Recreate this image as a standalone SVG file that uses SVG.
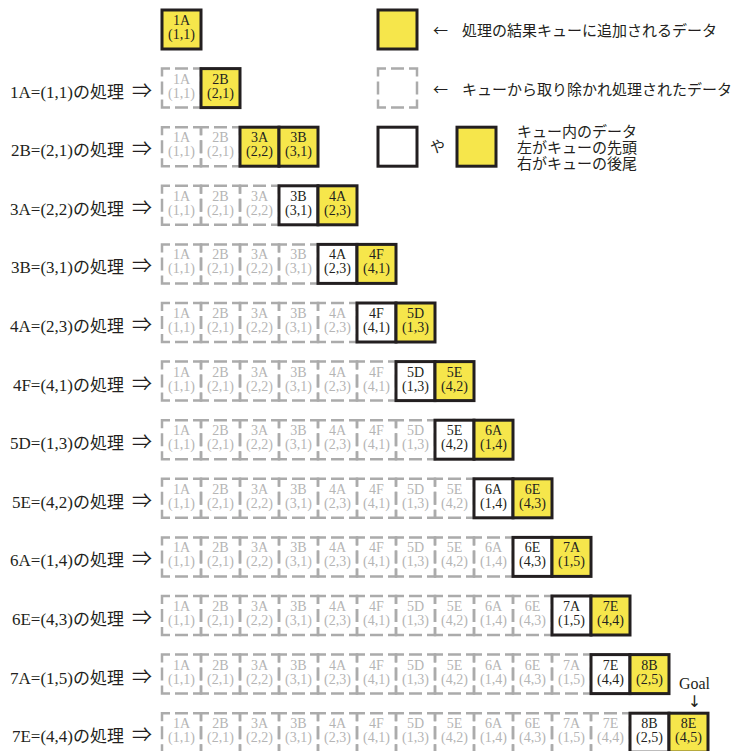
<svg xmlns="http://www.w3.org/2000/svg" width="733" height="751" viewBox="0 0 733 751">
<style>
text{font-family:"Liberation Serif","Noto Sans CJK JP",serif;}
.y{fill:#F6E64B;stroke:#231F20;stroke-width:3;}
.w{fill:#FFFFFF;stroke:#231F20;stroke-width:3;}
.d{fill:none;stroke:#ABABAB;stroke-width:2.5;stroke-dasharray:16 5 13 5;stroke-dashoffset:8;}
.t{font-size:14px;fill:#231F20;text-anchor:middle;}
.g{font-size:14px;fill:#B5B5B5;text-anchor:middle;}
.lb{font-size:17px;fill:#231F20;text-anchor:end;}
.ar{font-size:20px;fill:#231F20;font-family:"Noto Sans CJK JP",sans-serif;}
.lg{font-size:15px;fill:#231F20;font-family:"Noto Sans CJK JP",sans-serif;}
.gl{font-size:16px;fill:#231F20;text-anchor:middle;}
.ga{font-size:16px;fill:#231F20;text-anchor:middle;font-family:"DejaVu Sans",sans-serif;}
</style>

<g id="legend">
<g id="legend-added"><rect class="y" x="378" y="10" width="39" height="39"/>
<text class="lg" y="35.5"><tspan x="433">←</tspan><tspan x="462">処理の結果キューに追加されるデータ</tspan></text></g>
<g id="legend-removed"><rect class="d" x="378" y="68.6" width="39" height="39"/>
<text class="lg" y="94.5"><tspan x="433">←</tspan><tspan x="462">キューから取り除かれ処理されたデータ</tspan></text></g>
<g id="legend-queue"><rect class="w" x="378" y="127.2" width="39" height="39"/>
<text class="lg" x="430" y="152">や</text>
<rect class="y" x="457" y="127.2" width="39" height="39"/>
<text class="lg" x="517" y="136.5">キュー内のデータ</text>
<text class="lg" x="517" y="152.5">左がキューの先頭</text>
<text class="lg" x="517" y="168.5">右がキューの後尾</text></g>
</g>

<g id="row0" transform="translate(0,10)">
<g id="r0-b0" transform="translate(162,0)"><rect class="y" width="39" height="39"/><text class="t" x="19.5" y="15">1A</text><text class="t" x="19.5" y="29">(1,1)</text></g>
</g>

<g id="row1" transform="translate(0,68.6)">
<g id="r1-label"><text class="lb" x="124" y="29">1A=(1,1)の処理</text><text class="ar" x="132" y="29">⇒</text></g>
<g id="r1-b0" transform="translate(162,0)"><rect class="d" width="39" height="39"/><text class="g" x="19.5" y="15">1A</text><text class="g" x="19.5" y="29">(1,1)</text></g>
<g id="r1-b1" transform="translate(201,0)"><rect class="y" width="39" height="39"/><text class="t" x="19.5" y="15">2B</text><text class="t" x="19.5" y="29">(2,1)</text></g>
</g>

<g id="row2" transform="translate(0,127.2)">
<g id="r2-label"><text class="lb" x="124" y="29">2B=(2,1)の処理</text><text class="ar" x="132" y="29">⇒</text></g>
<g id="r2-b0" transform="translate(162,0)"><rect class="d" width="39" height="39"/><text class="g" x="19.5" y="15">1A</text><text class="g" x="19.5" y="29">(1,1)</text></g>
<g id="r2-b1" transform="translate(201,0)"><rect class="d" width="39" height="39"/><text class="g" x="19.5" y="15">2B</text><text class="g" x="19.5" y="29">(2,1)</text></g>
<g id="r2-b2" transform="translate(240,0)"><rect class="y" width="39" height="39"/><text class="t" x="19.5" y="15">3A</text><text class="t" x="19.5" y="29">(2,2)</text></g>
<g id="r2-b3" transform="translate(279,0)"><rect class="y" width="39" height="39"/><text class="t" x="19.5" y="15">3B</text><text class="t" x="19.5" y="29">(3,1)</text></g>
</g>

<g id="row3" transform="translate(0,185.8)">
<g id="r3-label"><text class="lb" x="124" y="29">3A=(2,2)の処理</text><text class="ar" x="132" y="29">⇒</text></g>
<g id="r3-b0" transform="translate(162,0)"><rect class="d" width="39" height="39"/><text class="g" x="19.5" y="15">1A</text><text class="g" x="19.5" y="29">(1,1)</text></g>
<g id="r3-b1" transform="translate(201,0)"><rect class="d" width="39" height="39"/><text class="g" x="19.5" y="15">2B</text><text class="g" x="19.5" y="29">(2,1)</text></g>
<g id="r3-b2" transform="translate(240,0)"><rect class="d" width="39" height="39"/><text class="g" x="19.5" y="15">3A</text><text class="g" x="19.5" y="29">(2,2)</text></g>
<g id="r3-b3" transform="translate(279,0)"><rect class="w" width="39" height="39"/><text class="t" x="19.5" y="15">3B</text><text class="t" x="19.5" y="29">(3,1)</text></g>
<g id="r3-b4" transform="translate(318,0)"><rect class="y" width="39" height="39"/><text class="t" x="19.5" y="15">4A</text><text class="t" x="19.5" y="29">(2,3)</text></g>
</g>

<g id="row4" transform="translate(0,244.4)">
<g id="r4-label"><text class="lb" x="124" y="29">3B=(3,1)の処理</text><text class="ar" x="132" y="29">⇒</text></g>
<g id="r4-b0" transform="translate(162,0)"><rect class="d" width="39" height="39"/><text class="g" x="19.5" y="15">1A</text><text class="g" x="19.5" y="29">(1,1)</text></g>
<g id="r4-b1" transform="translate(201,0)"><rect class="d" width="39" height="39"/><text class="g" x="19.5" y="15">2B</text><text class="g" x="19.5" y="29">(2,1)</text></g>
<g id="r4-b2" transform="translate(240,0)"><rect class="d" width="39" height="39"/><text class="g" x="19.5" y="15">3A</text><text class="g" x="19.5" y="29">(2,2)</text></g>
<g id="r4-b3" transform="translate(279,0)"><rect class="d" width="39" height="39"/><text class="g" x="19.5" y="15">3B</text><text class="g" x="19.5" y="29">(3,1)</text></g>
<g id="r4-b4" transform="translate(318,0)"><rect class="w" width="39" height="39"/><text class="t" x="19.5" y="15">4A</text><text class="t" x="19.5" y="29">(2,3)</text></g>
<g id="r4-b5" transform="translate(357,0)"><rect class="y" width="39" height="39"/><text class="t" x="19.5" y="15">4F</text><text class="t" x="19.5" y="29">(4,1)</text></g>
</g>

<g id="row5" transform="translate(0,303)">
<g id="r5-label"><text class="lb" x="124" y="29">4A=(2,3)の処理</text><text class="ar" x="132" y="29">⇒</text></g>
<g id="r5-b0" transform="translate(162,0)"><rect class="d" width="39" height="39"/><text class="g" x="19.5" y="15">1A</text><text class="g" x="19.5" y="29">(1,1)</text></g>
<g id="r5-b1" transform="translate(201,0)"><rect class="d" width="39" height="39"/><text class="g" x="19.5" y="15">2B</text><text class="g" x="19.5" y="29">(2,1)</text></g>
<g id="r5-b2" transform="translate(240,0)"><rect class="d" width="39" height="39"/><text class="g" x="19.5" y="15">3A</text><text class="g" x="19.5" y="29">(2,2)</text></g>
<g id="r5-b3" transform="translate(279,0)"><rect class="d" width="39" height="39"/><text class="g" x="19.5" y="15">3B</text><text class="g" x="19.5" y="29">(3,1)</text></g>
<g id="r5-b4" transform="translate(318,0)"><rect class="d" width="39" height="39"/><text class="g" x="19.5" y="15">4A</text><text class="g" x="19.5" y="29">(2,3)</text></g>
<g id="r5-b5" transform="translate(357,0)"><rect class="w" width="39" height="39"/><text class="t" x="19.5" y="15">4F</text><text class="t" x="19.5" y="29">(4,1)</text></g>
<g id="r5-b6" transform="translate(396,0)"><rect class="y" width="39" height="39"/><text class="t" x="19.5" y="15">5D</text><text class="t" x="19.5" y="29">(1,3)</text></g>
</g>

<g id="row6" transform="translate(0,361.6)">
<g id="r6-label"><text class="lb" x="124" y="29">4F=(4,1)の処理</text><text class="ar" x="132" y="29">⇒</text></g>
<g id="r6-b0" transform="translate(162,0)"><rect class="d" width="39" height="39"/><text class="g" x="19.5" y="15">1A</text><text class="g" x="19.5" y="29">(1,1)</text></g>
<g id="r6-b1" transform="translate(201,0)"><rect class="d" width="39" height="39"/><text class="g" x="19.5" y="15">2B</text><text class="g" x="19.5" y="29">(2,1)</text></g>
<g id="r6-b2" transform="translate(240,0)"><rect class="d" width="39" height="39"/><text class="g" x="19.5" y="15">3A</text><text class="g" x="19.5" y="29">(2,2)</text></g>
<g id="r6-b3" transform="translate(279,0)"><rect class="d" width="39" height="39"/><text class="g" x="19.5" y="15">3B</text><text class="g" x="19.5" y="29">(3,1)</text></g>
<g id="r6-b4" transform="translate(318,0)"><rect class="d" width="39" height="39"/><text class="g" x="19.5" y="15">4A</text><text class="g" x="19.5" y="29">(2,3)</text></g>
<g id="r6-b5" transform="translate(357,0)"><rect class="d" width="39" height="39"/><text class="g" x="19.5" y="15">4F</text><text class="g" x="19.5" y="29">(4,1)</text></g>
<g id="r6-b6" transform="translate(396,0)"><rect class="w" width="39" height="39"/><text class="t" x="19.5" y="15">5D</text><text class="t" x="19.5" y="29">(1,3)</text></g>
<g id="r6-b7" transform="translate(435,0)"><rect class="y" width="39" height="39"/><text class="t" x="19.5" y="15">5E</text><text class="t" x="19.5" y="29">(4,2)</text></g>
</g>

<g id="row7" transform="translate(0,420.2)">
<g id="r7-label"><text class="lb" x="124" y="29">5D=(1,3)の処理</text><text class="ar" x="132" y="29">⇒</text></g>
<g id="r7-b0" transform="translate(162,0)"><rect class="d" width="39" height="39"/><text class="g" x="19.5" y="15">1A</text><text class="g" x="19.5" y="29">(1,1)</text></g>
<g id="r7-b1" transform="translate(201,0)"><rect class="d" width="39" height="39"/><text class="g" x="19.5" y="15">2B</text><text class="g" x="19.5" y="29">(2,1)</text></g>
<g id="r7-b2" transform="translate(240,0)"><rect class="d" width="39" height="39"/><text class="g" x="19.5" y="15">3A</text><text class="g" x="19.5" y="29">(2,2)</text></g>
<g id="r7-b3" transform="translate(279,0)"><rect class="d" width="39" height="39"/><text class="g" x="19.5" y="15">3B</text><text class="g" x="19.5" y="29">(3,1)</text></g>
<g id="r7-b4" transform="translate(318,0)"><rect class="d" width="39" height="39"/><text class="g" x="19.5" y="15">4A</text><text class="g" x="19.5" y="29">(2,3)</text></g>
<g id="r7-b5" transform="translate(357,0)"><rect class="d" width="39" height="39"/><text class="g" x="19.5" y="15">4F</text><text class="g" x="19.5" y="29">(4,1)</text></g>
<g id="r7-b6" transform="translate(396,0)"><rect class="d" width="39" height="39"/><text class="g" x="19.5" y="15">5D</text><text class="g" x="19.5" y="29">(1,3)</text></g>
<g id="r7-b7" transform="translate(435,0)"><rect class="w" width="39" height="39"/><text class="t" x="19.5" y="15">5E</text><text class="t" x="19.5" y="29">(4,2)</text></g>
<g id="r7-b8" transform="translate(474,0)"><rect class="y" width="39" height="39"/><text class="t" x="19.5" y="15">6A</text><text class="t" x="19.5" y="29">(1,4)</text></g>
</g>

<g id="row8" transform="translate(0,478.8)">
<g id="r8-label"><text class="lb" x="124" y="29">5E=(4,2)の処理</text><text class="ar" x="132" y="29">⇒</text></g>
<g id="r8-b0" transform="translate(162,0)"><rect class="d" width="39" height="39"/><text class="g" x="19.5" y="15">1A</text><text class="g" x="19.5" y="29">(1,1)</text></g>
<g id="r8-b1" transform="translate(201,0)"><rect class="d" width="39" height="39"/><text class="g" x="19.5" y="15">2B</text><text class="g" x="19.5" y="29">(2,1)</text></g>
<g id="r8-b2" transform="translate(240,0)"><rect class="d" width="39" height="39"/><text class="g" x="19.5" y="15">3A</text><text class="g" x="19.5" y="29">(2,2)</text></g>
<g id="r8-b3" transform="translate(279,0)"><rect class="d" width="39" height="39"/><text class="g" x="19.5" y="15">3B</text><text class="g" x="19.5" y="29">(3,1)</text></g>
<g id="r8-b4" transform="translate(318,0)"><rect class="d" width="39" height="39"/><text class="g" x="19.5" y="15">4A</text><text class="g" x="19.5" y="29">(2,3)</text></g>
<g id="r8-b5" transform="translate(357,0)"><rect class="d" width="39" height="39"/><text class="g" x="19.5" y="15">4F</text><text class="g" x="19.5" y="29">(4,1)</text></g>
<g id="r8-b6" transform="translate(396,0)"><rect class="d" width="39" height="39"/><text class="g" x="19.5" y="15">5D</text><text class="g" x="19.5" y="29">(1,3)</text></g>
<g id="r8-b7" transform="translate(435,0)"><rect class="d" width="39" height="39"/><text class="g" x="19.5" y="15">5E</text><text class="g" x="19.5" y="29">(4,2)</text></g>
<g id="r8-b8" transform="translate(474,0)"><rect class="w" width="39" height="39"/><text class="t" x="19.5" y="15">6A</text><text class="t" x="19.5" y="29">(1,4)</text></g>
<g id="r8-b9" transform="translate(513,0)"><rect class="y" width="39" height="39"/><text class="t" x="19.5" y="15">6E</text><text class="t" x="19.5" y="29">(4,3)</text></g>
</g>

<g id="row9" transform="translate(0,537.4)">
<g id="r9-label"><text class="lb" x="124" y="29">6A=(1,4)の処理</text><text class="ar" x="132" y="29">⇒</text></g>
<g id="r9-b0" transform="translate(162,0)"><rect class="d" width="39" height="39"/><text class="g" x="19.5" y="15">1A</text><text class="g" x="19.5" y="29">(1,1)</text></g>
<g id="r9-b1" transform="translate(201,0)"><rect class="d" width="39" height="39"/><text class="g" x="19.5" y="15">2B</text><text class="g" x="19.5" y="29">(2,1)</text></g>
<g id="r9-b2" transform="translate(240,0)"><rect class="d" width="39" height="39"/><text class="g" x="19.5" y="15">3A</text><text class="g" x="19.5" y="29">(2,2)</text></g>
<g id="r9-b3" transform="translate(279,0)"><rect class="d" width="39" height="39"/><text class="g" x="19.5" y="15">3B</text><text class="g" x="19.5" y="29">(3,1)</text></g>
<g id="r9-b4" transform="translate(318,0)"><rect class="d" width="39" height="39"/><text class="g" x="19.5" y="15">4A</text><text class="g" x="19.5" y="29">(2,3)</text></g>
<g id="r9-b5" transform="translate(357,0)"><rect class="d" width="39" height="39"/><text class="g" x="19.5" y="15">4F</text><text class="g" x="19.5" y="29">(4,1)</text></g>
<g id="r9-b6" transform="translate(396,0)"><rect class="d" width="39" height="39"/><text class="g" x="19.5" y="15">5D</text><text class="g" x="19.5" y="29">(1,3)</text></g>
<g id="r9-b7" transform="translate(435,0)"><rect class="d" width="39" height="39"/><text class="g" x="19.5" y="15">5E</text><text class="g" x="19.5" y="29">(4,2)</text></g>
<g id="r9-b8" transform="translate(474,0)"><rect class="d" width="39" height="39"/><text class="g" x="19.5" y="15">6A</text><text class="g" x="19.5" y="29">(1,4)</text></g>
<g id="r9-b9" transform="translate(513,0)"><rect class="w" width="39" height="39"/><text class="t" x="19.5" y="15">6E</text><text class="t" x="19.5" y="29">(4,3)</text></g>
<g id="r9-b10" transform="translate(552,0)"><rect class="y" width="39" height="39"/><text class="t" x="19.5" y="15">7A</text><text class="t" x="19.5" y="29">(1,5)</text></g>
</g>

<g id="row10" transform="translate(0,596)">
<g id="r10-label"><text class="lb" x="124" y="29">6E=(4,3)の処理</text><text class="ar" x="132" y="29">⇒</text></g>
<g id="r10-b0" transform="translate(162,0)"><rect class="d" width="39" height="39"/><text class="g" x="19.5" y="15">1A</text><text class="g" x="19.5" y="29">(1,1)</text></g>
<g id="r10-b1" transform="translate(201,0)"><rect class="d" width="39" height="39"/><text class="g" x="19.5" y="15">2B</text><text class="g" x="19.5" y="29">(2,1)</text></g>
<g id="r10-b2" transform="translate(240,0)"><rect class="d" width="39" height="39"/><text class="g" x="19.5" y="15">3A</text><text class="g" x="19.5" y="29">(2,2)</text></g>
<g id="r10-b3" transform="translate(279,0)"><rect class="d" width="39" height="39"/><text class="g" x="19.5" y="15">3B</text><text class="g" x="19.5" y="29">(3,1)</text></g>
<g id="r10-b4" transform="translate(318,0)"><rect class="d" width="39" height="39"/><text class="g" x="19.5" y="15">4A</text><text class="g" x="19.5" y="29">(2,3)</text></g>
<g id="r10-b5" transform="translate(357,0)"><rect class="d" width="39" height="39"/><text class="g" x="19.5" y="15">4F</text><text class="g" x="19.5" y="29">(4,1)</text></g>
<g id="r10-b6" transform="translate(396,0)"><rect class="d" width="39" height="39"/><text class="g" x="19.5" y="15">5D</text><text class="g" x="19.5" y="29">(1,3)</text></g>
<g id="r10-b7" transform="translate(435,0)"><rect class="d" width="39" height="39"/><text class="g" x="19.5" y="15">5E</text><text class="g" x="19.5" y="29">(4,2)</text></g>
<g id="r10-b8" transform="translate(474,0)"><rect class="d" width="39" height="39"/><text class="g" x="19.5" y="15">6A</text><text class="g" x="19.5" y="29">(1,4)</text></g>
<g id="r10-b9" transform="translate(513,0)"><rect class="d" width="39" height="39"/><text class="g" x="19.5" y="15">6E</text><text class="g" x="19.5" y="29">(4,3)</text></g>
<g id="r10-b10" transform="translate(552,0)"><rect class="w" width="39" height="39"/><text class="t" x="19.5" y="15">7A</text><text class="t" x="19.5" y="29">(1,5)</text></g>
<g id="r10-b11" transform="translate(591,0)"><rect class="y" width="39" height="39"/><text class="t" x="19.5" y="15">7E</text><text class="t" x="19.5" y="29">(4,4)</text></g>
</g>

<g id="row11" transform="translate(0,654.6)">
<g id="r11-label"><text class="lb" x="124" y="29">7A=(1,5)の処理</text><text class="ar" x="132" y="29">⇒</text></g>
<g id="r11-b0" transform="translate(162,0)"><rect class="d" width="39" height="39"/><text class="g" x="19.5" y="15">1A</text><text class="g" x="19.5" y="29">(1,1)</text></g>
<g id="r11-b1" transform="translate(201,0)"><rect class="d" width="39" height="39"/><text class="g" x="19.5" y="15">2B</text><text class="g" x="19.5" y="29">(2,1)</text></g>
<g id="r11-b2" transform="translate(240,0)"><rect class="d" width="39" height="39"/><text class="g" x="19.5" y="15">3A</text><text class="g" x="19.5" y="29">(2,2)</text></g>
<g id="r11-b3" transform="translate(279,0)"><rect class="d" width="39" height="39"/><text class="g" x="19.5" y="15">3B</text><text class="g" x="19.5" y="29">(3,1)</text></g>
<g id="r11-b4" transform="translate(318,0)"><rect class="d" width="39" height="39"/><text class="g" x="19.5" y="15">4A</text><text class="g" x="19.5" y="29">(2,3)</text></g>
<g id="r11-b5" transform="translate(357,0)"><rect class="d" width="39" height="39"/><text class="g" x="19.5" y="15">4F</text><text class="g" x="19.5" y="29">(4,1)</text></g>
<g id="r11-b6" transform="translate(396,0)"><rect class="d" width="39" height="39"/><text class="g" x="19.5" y="15">5D</text><text class="g" x="19.5" y="29">(1,3)</text></g>
<g id="r11-b7" transform="translate(435,0)"><rect class="d" width="39" height="39"/><text class="g" x="19.5" y="15">5E</text><text class="g" x="19.5" y="29">(4,2)</text></g>
<g id="r11-b8" transform="translate(474,0)"><rect class="d" width="39" height="39"/><text class="g" x="19.5" y="15">6A</text><text class="g" x="19.5" y="29">(1,4)</text></g>
<g id="r11-b9" transform="translate(513,0)"><rect class="d" width="39" height="39"/><text class="g" x="19.5" y="15">6E</text><text class="g" x="19.5" y="29">(4,3)</text></g>
<g id="r11-b10" transform="translate(552,0)"><rect class="d" width="39" height="39"/><text class="g" x="19.5" y="15">7A</text><text class="g" x="19.5" y="29">(1,5)</text></g>
<g id="r11-b11" transform="translate(591,0)"><rect class="w" width="39" height="39"/><text class="t" x="19.5" y="15">7E</text><text class="t" x="19.5" y="29">(4,4)</text></g>
<g id="r11-b12" transform="translate(630,0)"><rect class="y" width="39" height="39"/><text class="t" x="19.5" y="15">8B</text><text class="t" x="19.5" y="29">(2,5)</text></g>
</g>

<g id="goal"><text class="gl" x="694.5" y="689">Goal</text><text class="ga" x="694.5" y="707">↓</text></g>

<g id="row12" transform="translate(0,713.2)">
<g id="r12-label"><text class="lb" x="124" y="29">7E=(4,4)の処理</text><text class="ar" x="132" y="29">⇒</text></g>
<g id="r12-b0" transform="translate(162,0)"><rect class="d" width="39" height="39"/><text class="g" x="19.5" y="15">1A</text><text class="g" x="19.5" y="29">(1,1)</text></g>
<g id="r12-b1" transform="translate(201,0)"><rect class="d" width="39" height="39"/><text class="g" x="19.5" y="15">2B</text><text class="g" x="19.5" y="29">(2,1)</text></g>
<g id="r12-b2" transform="translate(240,0)"><rect class="d" width="39" height="39"/><text class="g" x="19.5" y="15">3A</text><text class="g" x="19.5" y="29">(2,2)</text></g>
<g id="r12-b3" transform="translate(279,0)"><rect class="d" width="39" height="39"/><text class="g" x="19.5" y="15">3B</text><text class="g" x="19.5" y="29">(3,1)</text></g>
<g id="r12-b4" transform="translate(318,0)"><rect class="d" width="39" height="39"/><text class="g" x="19.5" y="15">4A</text><text class="g" x="19.5" y="29">(2,3)</text></g>
<g id="r12-b5" transform="translate(357,0)"><rect class="d" width="39" height="39"/><text class="g" x="19.5" y="15">4F</text><text class="g" x="19.5" y="29">(4,1)</text></g>
<g id="r12-b6" transform="translate(396,0)"><rect class="d" width="39" height="39"/><text class="g" x="19.5" y="15">5D</text><text class="g" x="19.5" y="29">(1,3)</text></g>
<g id="r12-b7" transform="translate(435,0)"><rect class="d" width="39" height="39"/><text class="g" x="19.5" y="15">5E</text><text class="g" x="19.5" y="29">(4,2)</text></g>
<g id="r12-b8" transform="translate(474,0)"><rect class="d" width="39" height="39"/><text class="g" x="19.5" y="15">6A</text><text class="g" x="19.5" y="29">(1,4)</text></g>
<g id="r12-b9" transform="translate(513,0)"><rect class="d" width="39" height="39"/><text class="g" x="19.5" y="15">6E</text><text class="g" x="19.5" y="29">(4,3)</text></g>
<g id="r12-b10" transform="translate(552,0)"><rect class="d" width="39" height="39"/><text class="g" x="19.5" y="15">7A</text><text class="g" x="19.5" y="29">(1,5)</text></g>
<g id="r12-b11" transform="translate(591,0)"><rect class="d" width="39" height="39"/><text class="g" x="19.5" y="15">7E</text><text class="g" x="19.5" y="29">(4,4)</text></g>
<g id="r12-b12" transform="translate(630,0)"><rect class="w" width="39" height="39"/><text class="t" x="19.5" y="15">8B</text><text class="t" x="19.5" y="29">(2,5)</text></g>
<g id="r12-b13" transform="translate(669,0)"><rect class="y" width="39" height="39"/><text class="t" x="19.5" y="15">8E</text><text class="t" x="19.5" y="29">(4,5)</text></g>
</g>

<g id="connectors"></g>
</svg>
